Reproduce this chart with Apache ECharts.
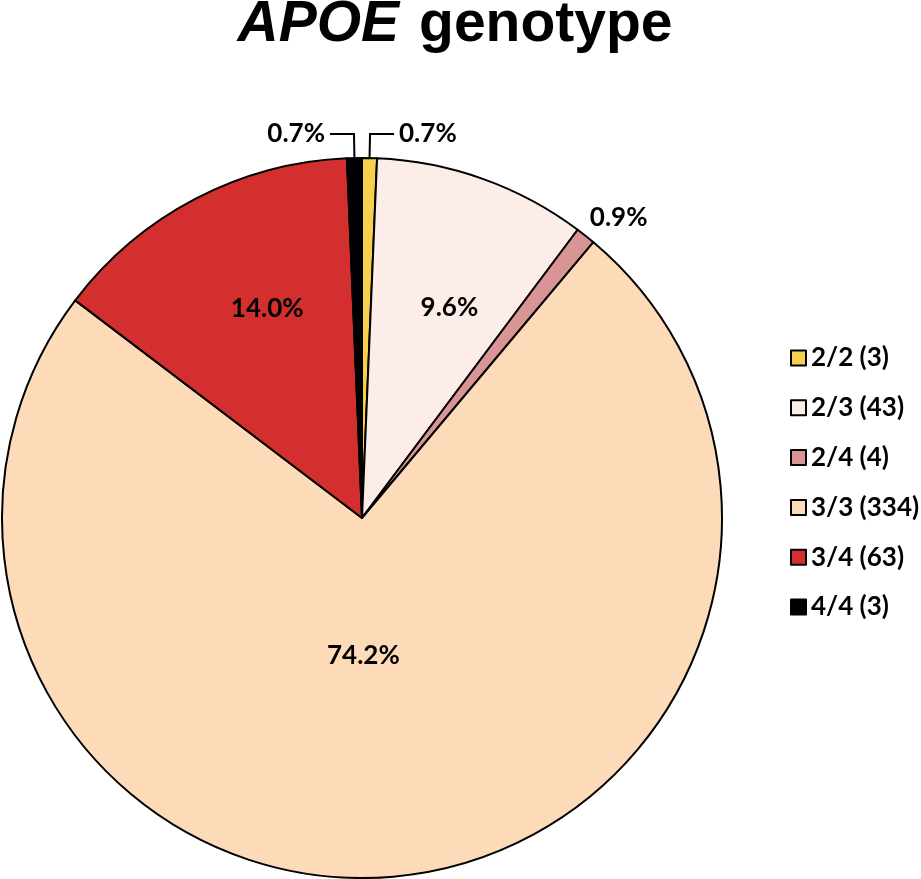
<!DOCTYPE html>
<html>
<head>
<meta charset="utf-8">
<script src="https://cdn.jsdelivr.net/npm/echarts@6/dist/echarts.min.js"></script>
<style>
  html, body { margin: 0; padding: 0; background: #fff; }
  #chart { width: 921px; height: 879px; }
</style>
</head>
<body>
<div id="chart"></div>
<script>
const genotypes = ['2/2', '2/3', '2/4', '3/3', '3/4', '4/4'];
const counts = [3, 43, 4, 334, 63, 3];
const percents = ['0.7%', '9.6%', '0.9%', '74.2%', '14.0%', '0.7%'];

const colors = ['#f6d04d', '#fcede8', '#d99595', '#fddbb9', '#d42f2f', '#000000'];
// label placement per slice: inside ones get a nudge, tiny ones go outside
const labelStyle = [
  { position: 'outside' },
  { position: 'inside', offset: [26, -38] },
  { position: 'inside', offset: [143, -157] },
  { position: 'inside', offset: [-19, -44] },
  { position: 'inside', offset: [-10, -47] },
  { position: 'outside' }
];

const font = 'Lato, "Open Sans", sans-serif';
const titleFont = '"Liberation Sans", Arial, sans-serif';

const chart = echarts.init(document.getElementById('chart'));

const data = genotypes.map((g, i) => {
  const ls = labelStyle[i];
  const item = {
    name: g + ' (' + counts[i] + ')',
    value: counts[i],
    itemStyle: { color: colors[i] },
    label: {
      position: ls.position,
      formatter: percents[i]
    }
  };
  if (ls.offset) item.label.offset = ls.offset;
  return item;
});

chart.setOption({
  animation: false,
  title: {
    text: '{i|APOE}{b|genotype}',
    left: 450,
    textAlign: 'center',
    top: -8,
    textStyle: {
      rich: {
        i: { fontFamily: titleFont, fontSize: 57, fontWeight: 'bold', fontStyle: 'italic', color: '#000', padding: [0, 20, 0, 0] },
        b: { fontFamily: titleFont, fontSize: 57, fontWeight: 'bold', color: '#000' }
      }
    }
  },
  legend: {
    orient: 'vertical',
    left: 785,
    top: 340,
    itemWidth: 15,
    itemHeight: 15,
    itemGap: 23.8,
    icon: 'rect',
    selectedMode: false,
    textStyle: { fontFamily: font, fontSize: 26, lineHeight: 26, fontWeight: 'bold', color: '#000', padding: [0, 0, 0, 0] }
  },
  series: [{
    type: 'pie',
    center: [362, 518],
    radius: 360,
    startAngle: 90,
    clockwise: true,
    avoidLabelOverlap: false,
    itemStyle: { borderColor: '#000', borderWidth: 2 },
    label: {
      fontFamily: font,
      fontSize: 26,
      fontWeight: 'bold',
      color: '#000'
    },
    labelLine: {
      show: true,
      length: 24,
      length2: 24,
      lineStyle: { color: '#000', width: 2 }
    },
    emphasis: { disabled: true },
    data: data
  }]
});
</script>
</body>
</html>
